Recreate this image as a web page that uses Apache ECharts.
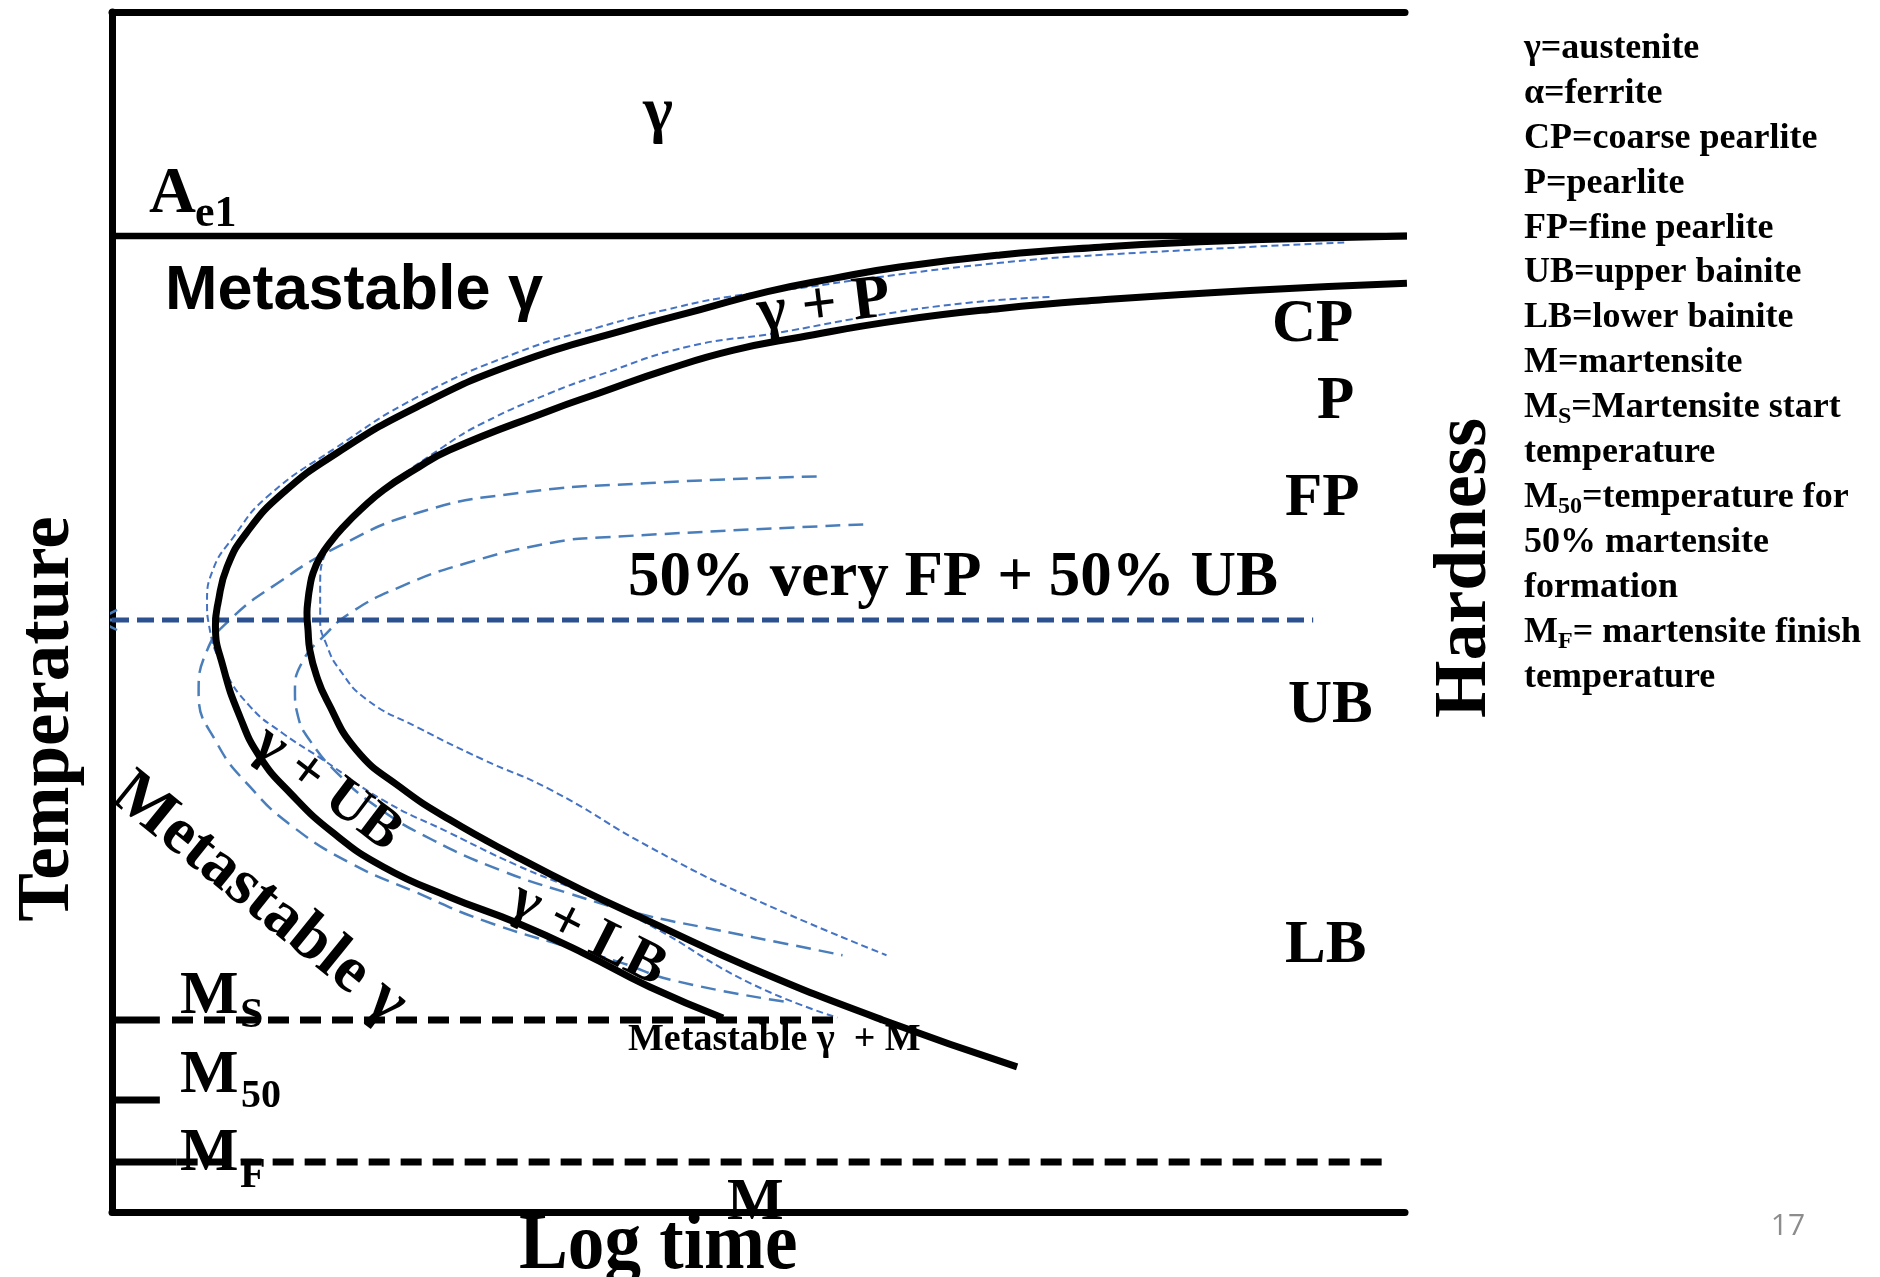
<!DOCTYPE html>
<html>
<head>
<meta charset="utf-8">
<script src="https://cdn.jsdelivr.net/npm/echarts@6/dist/echarts.min.js"></script>
<style>
  html, body { margin: 0; padding: 0; background: #fff; }
  #chart { width: 1880px; height: 1277px; }
</style>
</head>
<body>
<div id="chart"></div>
<script>
// temperature levels, 0-100 scale
var ae1Temp = 81.33;
var msTemp = 16;
var m50Temp = 9.33;
var mfTemp = 4.17;
var halfTemp = 49.33;

// [log time, temperature]
var startCurve = [[100.15, 81.33], [93.5, 81.17], [84.1, 80.85], [76.4, 80.4], [68.7, 79.75], [60.9, 78.75], [55.8, 77.8],
    [50.7, 76.7], [45.5, 75.2], [40.3, 73.7], [31.3, 70.75], [23.6, 67.1], [17.4, 63.25], [13.2, 59.9], [10.4, 56.6],
    [8.9, 53.75], [8.2, 50.75], [8.0, 48.9], [8.6, 45.4], [9.9, 41.25], [11.45, 37.9], [13.8, 34.9], [17.1, 31.6],
    [21.0, 28.75], [26.1, 26.25], [31.3, 24.1], [36.4, 21.6], [41.6, 18.75], [47.25, 16.17]];

var finishCurve = [[100.15, 77.4], [88.0, 76.8], [76.4, 76.0], [68.7, 75.3], [60.9, 74.3], [53.2, 72.9], [48.0, 71.8],
    [42.9, 70.2], [37.7, 68.25], [33.9, 66.8], [26.1, 63.5], [23.36, 61.83], [21.0, 60.17], [19.2, 58.5], [17.9, 57.1],
    [16.9, 55.83], [16.1, 54.58], [15.55, 53.25], [15.3, 52.08], [15.16, 51.0], [15.08, 49.92], [15.16, 48.5],
    [15.3, 46.83], [15.8, 44.75], [16.6, 42.67], [18.9, 38.5], [22.3, 35.4], [26.1, 32.7], [31.3, 29.6], [36.4, 26.8],
    [41.6, 24.2], [49.3, 20.4], [59.6, 16.0], [70.0, 12.1]];

var startDash = [[95.3, 80.8], [76.4, 79.75], [68.7, 79.1], [59.2, 77.9], [53.2, 77.0], [47.6, 76.25], [42.9, 75.2],
    [37.7, 73.75], [31.3, 71.6], [23.6, 67.9], [17.4, 63.75], [12.0, 59.6], [9.4, 56.25], [7.8, 53.5], [7.35, 50.75],
    [7.5, 48.9], [8.6, 45.4], [10.7, 42.1], [13.2, 39.9], [16.3, 37.7], [21.0, 34.3], [26.1, 31.6], [31.3, 28.9],
    [36.4, 26.6], [41.6, 23.9], [49.3, 19.1], [56.1, 16.2]];

var finishDash = [[72.5, 76.25], [66.1, 75.75], [58.4, 74.6], [51.4, 73.25], [44.5, 72.1], [37.7, 69.75], [33.9, 68.25],
    [28.7, 65.75], [25.6, 63.75], [21.0, 60.2], [17.9, 57.25], [16.6, 55.2], [16.1, 52.1], [16.1, 49.3], [16.6, 47.25],
    [17.6, 45.2], [19.7, 42.7], [23.6, 40.4], [28.7, 37.7], [33.9, 35.2], [41.6, 30.4], [49.3, 26.25], [59.9, 21.4]];

var outerLongDash = [[54.5, 61.3], [41.6, 60.75], [31.3, 59.9], [23.6, 58.25], [17.4, 55.4], [12.8, 52.4], [9.1, 49.33],
    [7.35, 46.8], [6.7, 43.2], [8.1, 39.1], [10.7, 35.4], [14.0, 32.1], [18.4, 29.1], [23.6, 26.6], [28.7, 24.3],
    [35.2, 22.1], [39.3, 20.8], [43.4, 19.3], [52.2, 17.5]];

var innerLongDash = [[58.1, 57.3], [37.7, 56.2], [33.9, 55.75], [27.5, 54.1], [22.3, 52.1], [18.4, 49.9], [16.3, 47.9],
    [14.8, 46.0], [14.15, 43.5], [14.4, 41.25], [15.3, 39.3], [17.4, 36.6], [20.5, 33.75], [24.8, 31.0], [30.0, 28.5],
    [35.2, 26.6], [40.6, 24.9], [46.8, 23.5], [51.9, 22.4], [56.5, 21.4]];

var legendLines = [
    ['γ=austenite'], ['α=ferrite'], ['CP=coarse pearlite'], ['P=pearlite'], ['FP=fine pearlite'],
    ['UB=upper bainite'], ['LB=lower bainite'], ['M=martensite'], ['M', 'S', '=Martensite start'],
    ['temperature'], ['M', '50', '=temperature for'], ['50% martensite'], ['formation'],
    ['M', 'F', '= martensite finish'], ['temperature']
];

var SERIF = 'Liberation Serif';
var SANS = 'Liberation Sans';
var measureCtx = document.createElement('canvas').getContext('2d');
function textWidth(str, size, family) {
    measureCtx.font = 'bold ' + size + 'px "' + family + '"';
    return measureCtx.measureText(str).width;
}

function line(data, color, width, type, smooth, z) {
    return {
        type: 'line', data: data, symbol: 'none', showSymbol: false, smooth: smooth ? 0.5 : false,
        clip: false, silent: true, animation: false, z: z || 2,
        lineStyle: { color: color, width: width, type: type || 'solid', cap: 'butt', join: 'round' }
    };
}

// text placed by its baseline
function label(str, x, base, size, o) {
    o = o || {};
    var fam = o.family || SERIF;
    return {
        type: 'text', x: x, y: base - 0.26 * size, z: 100, silent: true,
        scaleX: o.sx || 1,
        style: {
            text: str, fontSize: size, fontFamily: fam, fontWeight: o.weight || 'bold',
            fill: o.color || '#000', textAlign: o.align || 'left', textVerticalAlign: 'middle'
        }
    };
}
// text placed by its centre, rotated in degrees (anticlockwise)
function turned(str, cx, cy, size, deg, family) {
    return {
        type: 'text', x: cx, y: cy, rotation: deg * Math.PI / 180, z: 100, silent: true,
        style: {
            text: str, fontSize: size, fontFamily: family || SERIF, fontWeight: 'bold',
            fill: '#000', textAlign: 'center', textVerticalAlign: 'middle'
        }
    };
}

var graphics = [
    label('γ', 658, 130, 64, { align: 'center' }),
    label('A', 149, 212, 65),
    label('e1', 195, 226, 44),
    label('Metastable γ', 165, 308, 63, { family: SANS }),
    turned('γ + P', 824, 307, 62, 7),
    label('CP', 1272, 341, 61),
    label('P', 1317, 418, 61),
    label('FP', 1285, 515, 61),
    label('50% very FP + 50% UB', 628, 595, 63),
    label('UB', 1288, 722, 61),
    label('LB', 1285, 962, 61),
    turned('γ + UB', 327, 789, 58, -37),
    turned('γ + LB', 588, 935, 58, -27),
    turned('Metastable γ', 259, 899, 66, -39),
    label('Metastable γ  + M', 628, 1050, 38),
    label('M', 180, 1013, 62), label('S', 240, 1027, 42),
    label('M', 180, 1092, 62), label('50', 241, 1107, 40),
    label('M', 180, 1170, 62), label('F', 240, 1187, 42),
    label('M', 727, 1219, 60),
    label('Log time', 519, 1268, 80, { sx: 0.915 }),
    turned('Temperature', 49, 719, 73, 90),
    turned('Hardness', 1466, 568, 74, 90),
    label('17', 1788, 1234, 30, { family: 'Open Sans', weight: 'normal', color: '#8c8c8c', align: 'center' })
];

// definitions list on the right, with subscripts
var legX = 1524, legSize = 36, subSize = 24;
legendLines.forEach(function (parts, i) {
    var base = 58 + i * 44.9;
    if (parts.length === 1) {
        graphics.push(label(parts[0], legX, base, legSize));
    } else {
        var mw = textWidth(parts[0], legSize, SERIF);
        var sw = textWidth(parts[1], subSize, SERIF);
        graphics.push(label(parts[0], legX, base, legSize));
        graphics.push(label(parts[1], legX + mw, base + 6, subSize));
        graphics.push(label(parts[2], legX + mw + sw, base, legSize));
    }
});

var axisCommon = {
    type: 'value', min: 0, max: 100, silent: true,
    axisLine: { show: true, onZero: false, lineStyle: { color: '#000', width: 7 } },
    axisTick: { show: false }, axisLabel: { show: false }, splitLine: { show: false }
};

var blueThin = '#4472c4', blueLong = '#4a7ebb', blueDark = '#2b5190', blueArrow = '#4a7ebb';

var option = {
    backgroundColor: '#fff',
    animation: false,
    grid: { left: 112, right: 475, top: 12, bottom: 65 },
    xAxis: [
        Object.assign({ position: 'bottom' }, axisCommon),
        Object.assign({ position: 'top' }, axisCommon)
    ],
    yAxis: Object.assign({ position: 'left' }, axisCommon),
    series: [
        line([[0, ae1Temp], [100.15, ae1Temp]], '#000', 6.5),
        line([[101.47, 0], [101.47, 100]], '#000', 7),
        line(outerLongDash, blueLong, 2.5, [15, 8], true),
        line(innerLongDash, blueLong, 2.5, [15, 8], true),
        line(startDash, blueThin, 2, [7, 4], true),
        line(finishDash, blueThin, 2, [7, 4], true),
        line([[0, halfTemp], [92.9, halfTemp]], blueDark, 5, [17, 8]),
        line([[-1.16, halfTemp], [0, halfTemp]], blueArrow, 3),
        line([[0.39, 50.17], [-1.16, halfTemp], [0.39, 48.5]], blueArrow, 2.5),
        line(startCurve, '#000', 7, 'solid', true, 5),
        line(finishCurve, '#000', 7, 'solid', true, 5),
        line([[0, msTemp], [3.7, msTemp]], '#000', 7),
        line([[4.64, msTemp], [56.07, msTemp]], '#000', 7, [21, 11]),
        line([[0, m50Temp], [3.7, m50Temp]], '#000', 7),
        line([[0, mfTemp], [5.0, mfTemp]], '#000', 7),
        line([[5.0, mfTemp], [98.9, mfTemp]], '#000', 7, [21, 11]),
        line([[103.94, 36.0], [103.94, 19.2]], blueArrow, 5),
        line([[102.55, 21.42], [103.94, 18.67], [105.26, 21.42]], blueArrow, 6)
    ],
    graphic: graphics
};

var chartDom = document.getElementById('chart');
var myChart = echarts.init(chartDom);
myChart.setOption(option);
</script>
</body>
</html>
